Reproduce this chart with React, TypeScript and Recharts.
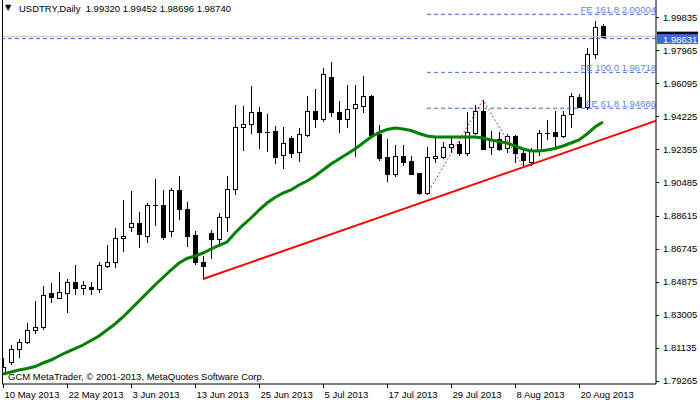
import { ComposedChart, Bar, Line, XAxis, YAxis, ReferenceLine } from 'recharts';

// daily candles 10 May 2013 .. 23 Aug 2013 (bar index = trading day)
const opens = [
  1.79719, 1.80308, 1.81044, 1.8144, 1.82119, 1.82289, 1.8423, 1.83964, 1.84247, 1.84836,
  1.8453, 1.84587, 1.8444, 1.85775, 1.85968, 1.87326, 1.87949, 1.88175, 1.87473, 1.89183,
  1.89194, 1.87756, 1.90043, 1.88968, 1.87496, 1.85968, 1.87609, 1.8727, 1.88515, 1.901,
  1.93609, 1.93779, 1.94458, 1.9336, 1.93382, 1.92041, 1.92986, 1.92228, 1.93156, 1.94531,
  1.94062, 1.96439, 1.94458, 1.94062, 1.94684, 1.94831, 1.95363, 1.9323, 1.91911, 1.90983,
  1.91984, 1.91701, 1.91022, 1.89873, 1.91854, 1.91911, 1.92477, 1.92647, 1.92137, 1.93303,
  1.94531, 1.92511, 1.9293, 1.9242, 1.93116, 1.92171, 1.91662, 1.92307, 1.93314, 1.93326,
  1.93133, 1.94345, 1.95341, 1.94775, 1.97741, 1.9932,
];
const highs = [
  1.80534, 1.81287, 1.81627, 1.82515, 1.83794, 1.84626, 1.84779, 1.85436, 1.85023, 1.85815,
  1.84909, 1.84836, 1.86002, 1.86947, 1.87892, 1.89494, 1.90003, 1.88798, 1.89341, 1.90666,
  1.9006, 1.90173, 1.90852, 1.89381, 1.87756, 1.86324, 1.87796, 1.88741, 1.90852, 1.94871,
  1.94814, 1.95946, 1.94741, 1.94362, 1.93699, 1.93626, 1.93133, 1.93569, 1.9538, 1.95777,
  1.96948, 1.97322, 1.95097, 1.96003, 1.96003, 1.96529, 1.95437, 1.93739, 1.92947, 1.92607,
  1.92607, 1.91984, 1.9105, 1.92477, 1.93043, 1.92794, 1.92986, 1.92833, 1.94492, 1.94871,
  1.95146, 1.93399, 1.9336, 1.9323, 1.93173, 1.9242, 1.9242, 1.93456, 1.94022, 1.94548,
  1.94548, 1.95567, 1.95477, 1.9808, 1.99625, 1.99452,
];
const lows = [
  1.79674, 1.80212, 1.80625, 1.81417, 1.81949, 1.82176, 1.83738, 1.8393, 1.83172, 1.84174,
  1.84174, 1.84174, 1.84304, 1.85719, 1.85719, 1.86624, 1.87756, 1.86851, 1.87134, 1.88107,
  1.8727, 1.87473, 1.88402, 1.86907, 1.85872, 1.85023, 1.86194, 1.86907, 1.87756, 1.89851,
  1.92341, 1.93303, 1.92454, 1.92284, 1.91605, 1.91322, 1.91945, 1.91718, 1.9313, 1.93643,
  1.93982, 1.94265, 1.93326, 1.93609, 1.92001, 1.94458, 1.93077, 1.91758, 1.90569, 1.90869,
  1.91475, 1.9096, 1.8985, 1.89827, 1.91628, 1.91854, 1.92228, 1.92041, 1.92041, 1.9323,
  1.9236, 1.92081, 1.92324, 1.92194, 1.91662, 1.91399, 1.91475, 1.92041, 1.92947, 1.92511,
  1.93077, 1.93643, 1.9475, 1.94628, 1.97548, 1.98696,
];
const closes = [
  1.80025, 1.81044, 1.8144, 1.82136, 1.82289, 1.84117, 1.84021, 1.8427, 1.84836, 1.8453,
  1.84683, 1.8444, 1.85815, 1.85968, 1.87326, 1.87456, 1.88175, 1.87553, 1.89211, 1.89211,
  1.87417, 1.90043, 1.88968, 1.87456, 1.86002, 1.85775, 1.8727, 1.88515, 1.901, 1.93609,
  1.93779, 1.94458, 1.9336, 1.9335, 1.91945, 1.92703, 1.92171, 1.93213, 1.94514, 1.94062,
  1.96609, 1.94458, 1.94062, 1.94628, 1.94911, 1.95363, 1.93173, 1.91888, 1.90983, 1.91984,
  1.91662, 1.90983, 1.89873, 1.91911, 1.91984, 1.92477, 1.92647, 1.92171, 1.93326, 1.94548,
  1.92381, 1.9289, 1.92381, 1.93116, 1.92137, 1.91758, 1.92307, 1.93303, 1.93269, 1.93133,
  1.94305, 1.9538, 1.94775, 1.97741, 1.99269, 1.9874,
];
// green moving average
const movingAvg = [
  1.79646, 1.79759, 1.79872, 1.79957, 1.8007, 1.80268, 1.80438, 1.80664, 1.80891, 1.81089,
  1.81287, 1.81542, 1.81796, 1.82136, 1.82476, 1.82872, 1.83325, 1.83777, 1.8423, 1.84683,
  1.85108, 1.85532, 1.85928, 1.86183, 1.86324, 1.86494, 1.86721, 1.86919, 1.87117, 1.87626,
  1.88079, 1.88475, 1.88928, 1.89324, 1.89636, 1.8989, 1.9006, 1.90343, 1.90569, 1.90852,
  1.91192, 1.91532, 1.91815, 1.92098, 1.92381, 1.9272, 1.9306, 1.93315, 1.93484, 1.93569,
  1.93513, 1.93428, 1.93258, 1.93116, 1.9306, 1.9306, 1.9306, 1.9306, 1.9306, 1.9306,
  1.93003, 1.9289, 1.92805, 1.9272, 1.9255, 1.92381, 1.92267, 1.92267, 1.92324, 1.92409,
  1.9255, 1.9272, 1.9289, 1.9323, 1.93626, 1.93909,
];

const xTickIndex = [0, 8, 16, 24, 32, 40, 48, 56, 64, 72];
const xTickLabels = [
  '10 May 2013', '22 May 2013', '3 Jun 2013', '13 Jun 2013', '25 Jun 2013',
  '5 Jul 2013', '17 Jul 2013', '29 Jul 2013', '8 Aug 2013', '20 Aug 2013',
];
const yTicks = [
  1.79265, 1.81135, 1.83005, 1.84875, 1.86745, 1.88615, 1.90485, 1.92355, 1.94225, 1.96095,
  1.97965, 1.99835,
];
const bidPrice = 1.9874;
const hLinePrice = 1.98631;

const fibIdx = [53, 60, 65];
const fibPrice = [1.89827, 1.95146, 1.91399];
const feNames = ['FE 161.8', 'FE 100.0', 'FE 61.8'];
const fePrice = [2.00004, 1.96718, 1.94686];
const trendIdx = [25, 82];
const trendPrice = [1.85023, 1.9404];

const title = 'USDTRY,Daily  1.99320 1.99452 1.98696 1.98740';
const copyright = 'GCM MetaTrader, \u00a9 2001-2013, MetaQuotes Software Corp.';

const X_MIN = -0.125;
const X_MAX = 81.625;
const FONT = "'Liberation Sans', Arial, sans-serif";
const FS = 9.5;

const data = opens.map((o, i) => ({
  i,
  o,
  h: highs[i],
  l: lows[i],
  c: closes[i],
  ma: movingAvg[i],
}));
const fibData = fibIdx.map((i, k) => ({ i, fib: fibPrice[k] }));
const trendData = trendIdx.map((i, k) => ({ i, trend: trendPrice[k] }));

const Candle = (props: any) => {
  const { x, y, width, height, payload } = props;
  const { o, h, l, c } = payload;
  const top = Math.min(y, y + height);
  const bot = Math.max(y, y + height);
  const px = (v: number) => (h === l ? top : top + ((h - v) / (h - l)) * (bot - top));
  const cx = Math.round(x + width / 2) + 0.5;
  const yo = Math.round(px(o));
  const yc = Math.round(px(c));
  const bTop = Math.min(yo, yc);
  const bBot = Math.max(yo, yc);
  const up = c >= o;
  return (
    <g>
      <line x1={cx} x2={cx} y1={Math.round(top)} y2={Math.round(bot) + 1} stroke="#000" />
      {bBot - bTop < 1 ? (
        <line x1={cx - 2.5} x2={cx + 2.5} y1={bTop + 0.5} y2={bTop + 0.5} stroke="#000" />
      ) : (
        <rect
          x={cx - 2}
          y={bTop + 0.5}
          width={4}
          height={bBot - bTop}
          fill={up ? '#fff' : '#000'}
          stroke="#000"
        />
      )}
    </g>
  );
};

const XTick = (props: any) => {
  const { x, y, payload } = props;
  const label = xTickLabels[xTickIndex.indexOf(payload.value)];
  const tx = Math.round(x) + 0.5;
  return (
    <g>
      <line x1={tx} x2={tx} y1={y} y2={y + 4} stroke="#000" />
      <text x={tx + 1} y={y + 10.5} fontSize={FS} fontFamily={FONT} fill="#000" dominantBaseline="central">
        {label}
      </text>
    </g>
  );
};

const YTick = (props: any) => {
  const { x, y, payload } = props;
  const v = payload.value;
  if (v === bidPrice) {
    return <rect x={x + 1} y={y - 5} width={41} height={10} fill="#000" />;
  }
  if (v === hLinePrice) {
    return (
      <g>
        <rect x={x + 1} y={y - 4.5} width={41} height={10} fill="#3a6bd6" />
        <text x={x + 7} y={y + 0.5} fontSize={FS} fontFamily={FONT} fill="#fff" dominantBaseline="central">
          {v.toFixed(5)}
        </text>
      </g>
    );
  }
  return (
    <g>
      <line x1={x} x2={x + 3} y1={Math.round(y) + 0.5} y2={Math.round(y) + 0.5} stroke="#000" />
      <text x={x + 7} y={y} fontSize={FS} fontFamily={FONT} fill="#000" dominantBaseline="central">
        {v.toFixed(5)}
      </text>
    </g>
  );
};

const FeLabel = (props: any) => {
  const { viewBox, value } = props;
  if (!viewBox) return null;
  return (
    <text
      x={viewBox.x + (viewBox.width || 0)}
      y={viewBox.y - 5}
      textAnchor="end"
      fontSize={FS}
      fontFamily={FONT}
      fill="#5b85e8"
      dominantBaseline="central"
    >
      {value}
    </text>
  );
};

export default function App() {
  return (
    <div style={{ position: 'absolute', left: 0, top: 0, width: 700, height: 402, background: '#fff' }}>
      <ComposedChart width={700} height={402} data={data} margin={{ top: 0, right: 0, bottom: 0, left: 2 }}>
        <XAxis
          type="number"
          dataKey="i"
          domain={[X_MIN, X_MAX]}
          ticks={xTickIndex}
          interval={0}
          tick={<XTick />}
          tickLine={false}
          tickSize={0}
          tickMargin={0}
          axisLine={{ stroke: '#000' }}
          height={18}
          allowDataOverflow
        />
        <YAxis
          orientation="right"
          width={44}
          domain={[1.7908, 2.00814]}
          ticks={[...yTicks, bidPrice, hLinePrice]}
          interval={0}
          tick={<YTick />}
          tickLine={false}
          tickSize={0}
          tickMargin={0}
          axisLine={{ stroke: '#000' }}
          allowDataOverflow
        />
        <ReferenceLine y={bidPrice} stroke="#c0c0c0" />
        <ReferenceLine y={hLinePrice} stroke="#4169e1" strokeDasharray="4 3" />
        {fePrice.map((v, k) => (
          <ReferenceLine
            key={feNames[k]}
            segment={[
              { x: fibIdx[0], y: v },
              { x: X_MAX, y: v },
            ]}
            stroke="#4169e1"
            strokeDasharray="4 3"
            label={{ value: `${feNames[k]} ${v.toFixed(5)}`, content: FeLabel }}
          />
        ))}
        <Bar dataKey={(d: any) => [d.l, d.h]} barSize={5} shape={<Candle />} isAnimationActive={false} />
        <Line
          dataKey="ma"
          type="linear"
          stroke="#008000"
          strokeWidth={3}
          dot={false}
          isAnimationActive={false}
        />
        <Line
          data={trendData}
          dataKey="trend"
          type="linear"
          stroke="#ff0000"
          strokeWidth={2}
          dot={false}
          isAnimationActive={false}
        />
        <Line
          data={fibData}
          dataKey="fib"
          type="linear"
          stroke="#ff0000"
          strokeWidth={1}
          strokeDasharray="1.5 2.5"
          dot={false}
          isAnimationActive={false}
        />
      </ComposedChart>
      <div style={{ position: 'absolute', left: 2, top: 0, width: 1, height: 384, background: '#000' }} />
      <div style={{ position: 'absolute', left: 5, top: 3, fontSize: 8, fontFamily: 'DejaVu Sans', lineHeight: '10px' }}>
        {'\u25bc'}
      </div>
      <div
        style={{
          position: 'absolute',
          left: 19,
          top: 3,
          fontSize: FS,
          fontFamily: FONT,
          lineHeight: '12px',
          whiteSpace: 'pre',
          color: '#000',
        }}
      >
        {title}
      </div>
      <div
        style={{
          position: 'absolute',
          left: 8,
          top: 371,
          fontSize: FS,
          fontFamily: FONT,
          lineHeight: '12px',
          whiteSpace: 'pre',
          color: '#000',
        }}
      >
        {copyright}
      </div>
    </div>
  );
}
